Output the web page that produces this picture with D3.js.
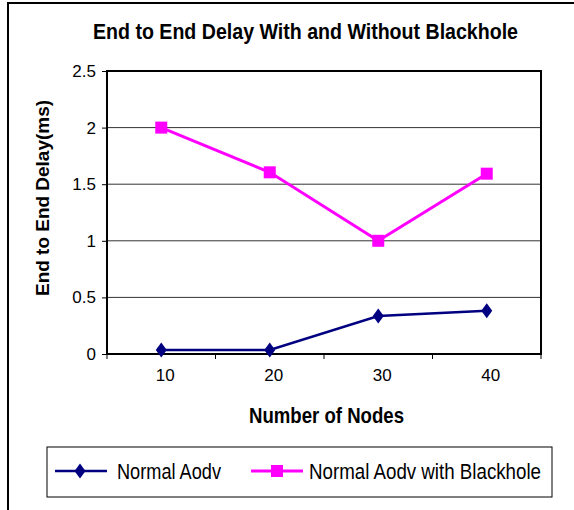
<!DOCTYPE html>
<html>
<head>
<meta charset="utf-8">
<script src="https://cdn.jsdelivr.net/npm/d3@7"></script>
<style>
  body { margin: 0; background: #fff; }
  svg { display: block; font-family: "Liberation Sans", Arial, sans-serif; }
</style>
</head>
<body>
<div id="chart"></div>
<script>
// chart data
const nodes = ["10", "20", "30", "40"];
const normalAodv = [0.035, 0.035, 0.336, 0.382];
const blackholeAodv = [2.0, 1.605, 1.0, 1.593];
const yTicks = [0, 0.5, 1, 1.5, 2, 2.5];
const seriesNames = ["Normal Aodv", "Normal Aodv with Blackhole"];

const width = 574, height = 510;
const plot = {left: 107, right: 541, top: 71, bottom: 354};

const svg = d3.select("#chart").append("svg")
    .attr("width", width)
    .attr("height", height);

// outer chart border (only top and left are in view)
svg.append("rect")
    .attr("x", 8).attr("y", 3)
    .attr("width", 700).attr("height", 700)
    .attr("fill", "#fff")
    .attr("stroke", "#000")
    .attr("stroke-width", 2);

const x = d3.scaleBand()
    .domain(nodes)
    .range([plot.left, plot.right])
    .padding(0);

const y = d3.scaleLinear()
    .domain([0, 2.5])
    .range([plot.bottom, plot.top]);

// gridlines
svg.append("g")
    .selectAll("line")
    .data(yTicks.slice(1, -1))
    .join("line")
    .attr("x1", plot.left).attr("x2", plot.right)
    .attr("y1", d => y(d)).attr("y2", d => y(d))
    .attr("stroke", "#333")
    .attr("stroke-width", 1);

// y axis
const yAxis = svg.append("g")
    .attr("transform", `translate(${plot.left},0)`)
    .call(d3.axisLeft(y).tickValues(yTicks).tickSize(5).tickPadding(6).tickFormat(d => String(d)));
yAxis.select(".domain").remove();
yAxis.selectAll("line").attr("stroke", "#000");
yAxis.selectAll("text").attr("font-size", 17).attr("fill", "#000")
    .attr("font-family", "'Liberation Sans', Arial, sans-serif");

// x axis labels
const xAxis = svg.append("g")
    .attr("transform", `translate(0,${plot.bottom})`)
    .call(d3.axisBottom(x).tickSize(0).tickPadding(15));
xAxis.select(".domain").remove();
xAxis.selectAll("text").attr("font-size", 17).attr("fill", "#000").attr("dx", 4)
    .attr("font-family", "'Liberation Sans', Arial, sans-serif");

// x tick marks at category boundaries
const bounds = nodes.map(d => x(d)).concat([x.range()[1]]);
svg.append("g")
    .selectAll("line")
    .data(bounds)
    .join("line")
    .attr("x1", d => d).attr("x2", d => d)
    .attr("y1", plot.bottom).attr("y2", plot.bottom + 5)
    .attr("stroke", "#000");

// plot area border
svg.append("rect")
    .attr("x", plot.left).attr("y", plot.top)
    .attr("width", plot.right - plot.left)
    .attr("height", plot.bottom - plot.top)
    .attr("fill", "none")
    .attr("stroke", "#000")
    .attr("stroke-width", 2);

const cx = d => x(d) + x.bandwidth() / 2;

const line = d3.line()
    .x((d, i) => cx(nodes[i]))
    .y(d => y(d));

// Normal Aodv
svg.append("path")
    .datum(normalAodv)
    .attr("d", line)
    .attr("fill", "none")
    .attr("stroke", "#000080")
    .attr("stroke-width", 2.5);

const diamond = "M0,-7.5L5.5,0L0,7.5L-5.5,0Z";
svg.append("g")
    .selectAll("path")
    .data(normalAodv)
    .join("path")
    .attr("d", diamond)
    .attr("transform", (d, i) => `translate(${cx(nodes[i])},${y(d)})`)
    .attr("fill", "#000080");

// with Blackhole
svg.append("path")
    .datum(blackholeAodv)
    .attr("d", line)
    .attr("fill", "none")
    .attr("stroke", "#ff00ff")
    .attr("stroke-width", 3);

svg.append("g")
    .selectAll("rect")
    .data(blackholeAodv)
    .join("rect")
    .attr("x", (d, i) => cx(nodes[i]) - 6)
    .attr("y", d => y(d) - 6)
    .attr("width", 12).attr("height", 12)
    .attr("fill", "#ff00ff");

// titles (text in the original is a bit taller than wide, so stretch vertically)
svg.append("text")
    .attr("transform", "translate(93,39) scale(1,1.15)")
    .attr("font-size", 19.6).attr("font-weight", "bold")
    .attr("textLength", 425).attr("lengthAdjust", "spacingAndGlyphs")
    .text("End to End Delay With and Without Blackhole");

svg.append("text")
    .attr("transform", "translate(249,423) scale(1,1.17)")
    .attr("font-size", 18.6).attr("font-weight", "bold")
    .attr("textLength", 155).attr("lengthAdjust", "spacingAndGlyphs")
    .text("Number of Nodes");

svg.append("text")
    .attr("transform", "translate(48.5,296) rotate(-90)")
    .attr("font-size", 17.5).attr("font-weight", "bold")
    .attr("textLength", 196).attr("lengthAdjust", "spacingAndGlyphs")
    .text("End to End Delay(ms)");

// legend
const legend = svg.append("g");
legend.append("rect")
    .attr("x", 47).attr("y", 447)
    .attr("width", 505).attr("height", 50)
    .attr("fill", "#fff")
    .attr("stroke", "#000")
    .attr("stroke-width", 1);

const legendItems = [
    {name: seriesNames[0], color: "#000080", x: 55, textX: 117, textLen: 104, marker: "diamond"},
    {name: seriesNames[1], color: "#ff00ff", x: 251, textX: 309, textLen: 232, marker: "square"}
];

legendItems.forEach(function(it) {
    legend.append("line")
        .attr("x1", it.x).attr("x2", it.x + 52)
        .attr("y1", 471).attr("y2", 471)
        .attr("stroke", it.color)
        .attr("stroke-width", it.marker === "square" ? 3 : 2.5);
    if (it.marker === "diamond") {
        legend.append("path")
            .attr("d", diamond)
            .attr("transform", `translate(${it.x + 25},471)`)
            .attr("fill", it.color);
    } else {
        legend.append("rect")
            .attr("x", it.x + 20).attr("y", 465)
            .attr("width", 12).attr("height", 12)
            .attr("fill", it.color);
    }
    legend.append("text")
        .attr("transform", `translate(${it.textX},478.5) scale(1,1.16)`)
        .attr("font-size", 18.5)
        .attr("textLength", it.textLen).attr("lengthAdjust", "spacingAndGlyphs")
        .text(it.name);
});
</script>
</body>
</html>
